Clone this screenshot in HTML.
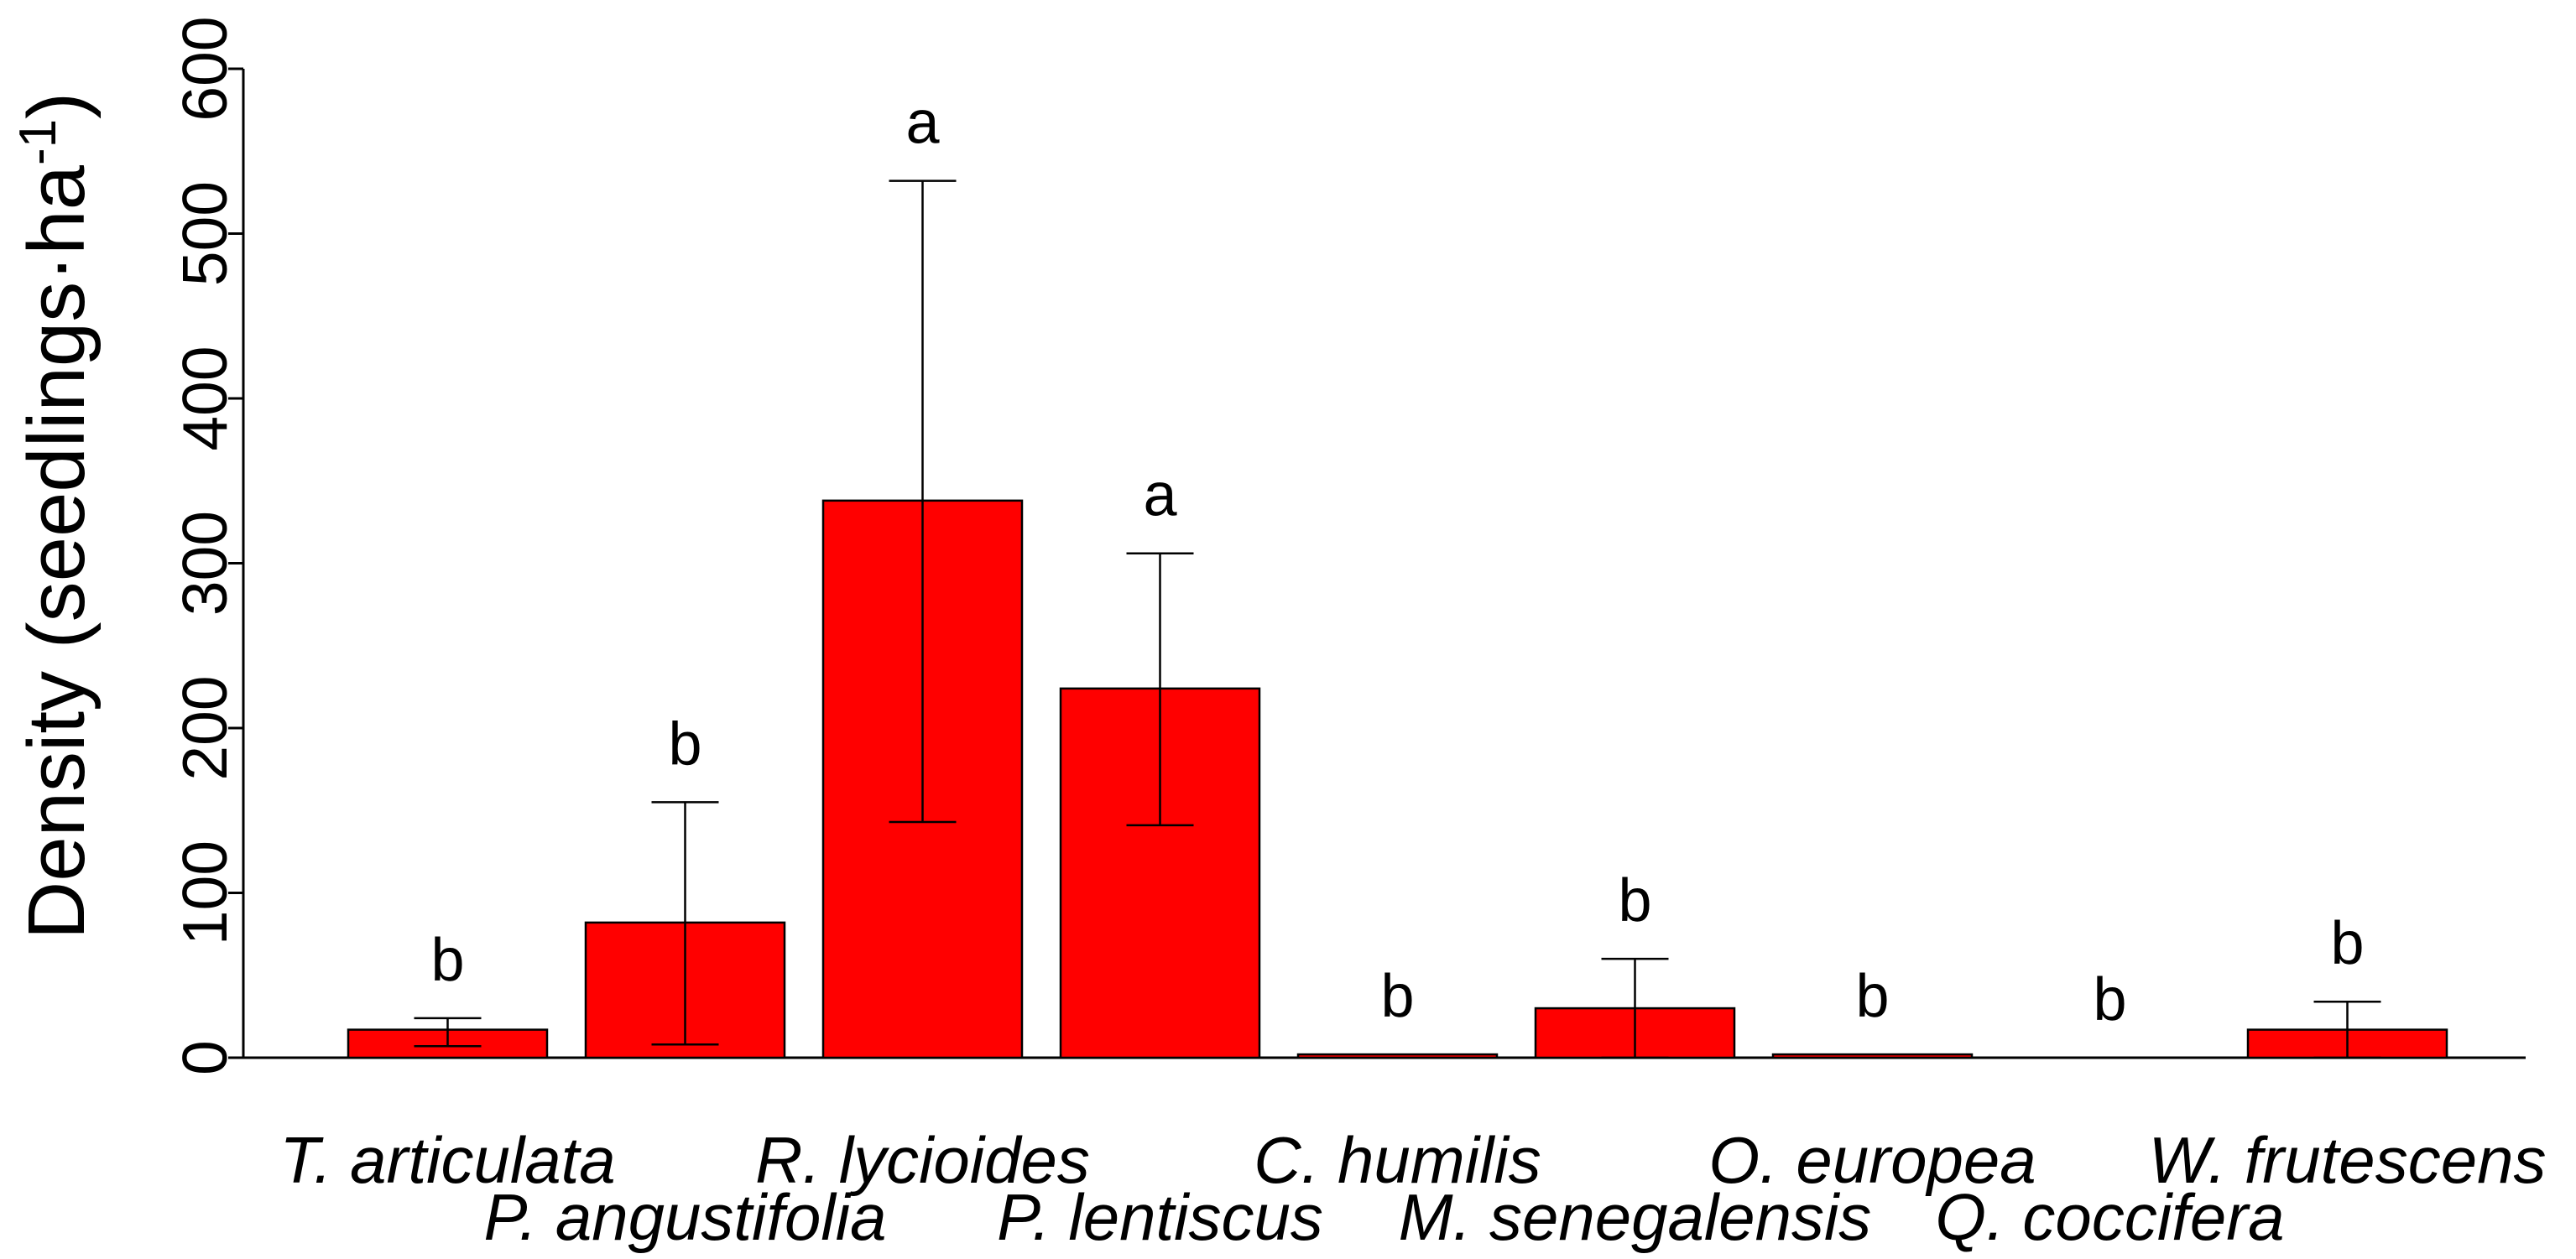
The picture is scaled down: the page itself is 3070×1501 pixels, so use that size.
<!DOCTYPE html>
<html><head><meta charset="utf-8"><style>
html,body{margin:0;padding:0;background:#fff;}
svg{display:block;font-family:"Liberation Sans",sans-serif;}
</style></head><body>
<svg id="chart" width="3070" height="1501" viewBox="0 0 3070 1501" xmlns="http://www.w3.org/2000/svg">
<g id="axes"></g>
<g id="bars"></g>
<text transform="translate(100,615) rotate(-90)" text-anchor="middle" font-size="96" fill="#000">Density (seedlings·ha<tspan font-size="62" dy="-34">-1</tspan><tspan dy="34">)</tspan></text>
</svg>
<script>
const categories = ["T. articulata","P. angustifolia","R. lycioides","P. lentiscus","C. humilis","M. senegalensis","O. europea","Q. coccifera","W. frutescens"];
const values = [17, 82, 338, 224, 2, 30, 2, 0, 17];
const errLow = [7, 8, 143, 141, 2, 0, 2, 0, 0];
const errHigh = [24, 155, 532, 306, 2, 60, 2, 0, 34];
const letters = ["b","b","a","a","b","b","b","b","b"];
const yTicks = [0, 100, 200, 300, 400, 500, 600];

const NS = "http://www.w3.org/2000/svg";
const x0 = 290, x1 = 3010, yBase = 1261, yTop = 82, yMax = 600;
const pitch = 283, barW = 237, firstLeft = 415;
function yS(v){ return yBase - (v / yMax) * (yBase - yTop); }
function xC(i){ return firstLeft + barW/2 + i * pitch; }
function mk(tag, attrs, parent){ const e = document.createElementNS(NS, tag); for (const k in attrs) e.setAttribute(k, attrs[k]); parent.appendChild(e); return e; }

const axes = document.getElementById('axes');
const bars = document.getElementById('bars');
let ax = mk('line', {x1:x0, y1:yS(0), x2:x0, y2:yS(600), stroke:'#000', 'stroke-width':3}, axes);


let bx = mk('line', {x1:x0, y1:yBase, x2:x1, y2:yBase, stroke:'#000', 'stroke-width':3}, axes);


yTicks.forEach(t => {
  const y = yS(t);
  const tk = mk('line', {x1:x0-18, y1:y, x2:x0, y2:y, stroke:'#000', 'stroke-width':3}, axes);
  
  
  const lb = mk('text', {transform:`translate(270,${y}) rotate(-90)`, 'text-anchor':'middle', 'font-size':75, fill:'#000'}, axes);
  lb.textContent = t;
  
  
});
categories.forEach((c, i) => {
  const cx = xC(i);
  const r = mk('rect', {x:cx-barW/2, y:yS(values[i]), width:barW, height:yBase-yS(values[i]), fill:'#ff0000', stroke:'#000', 'stroke-width':2.5}, bars);
  
  
  if (errHigh[i] > errLow[i]) {
    const g = mk('g', {stroke:'#000', 'stroke-width':2.5}, bars);
    
    
    mk('line', {x1:cx, y1:yS(errLow[i]), x2:cx, y2:yS(errHigh[i])}, g);
    mk('line', {x1:cx-40, y1:yS(errHigh[i]), x2:cx+40, y2:yS(errHigh[i])}, g);
    mk('line', {x1:cx-40, y1:yS(errLow[i]), x2:cx+40, y2:yS(errLow[i])}, g);
  }
  const top = Math.max(values[i], errHigh[i]);
  const lt = mk('text', {x:cx, y:yS(top)-45, 'text-anchor':'middle', 'font-size':72, fill:'#000'}, bars);
  lt.textContent = letters[i];
  
  
  const xl = mk('text', {x:cx, y:(i % 2 === 0) ? 1410 : 1478, 'text-anchor':'middle', 'font-size':78, 'font-style':'italic', fill:'#000'}, axes);
  xl.textContent = c;
  
  
});
</script>
</body></html>
